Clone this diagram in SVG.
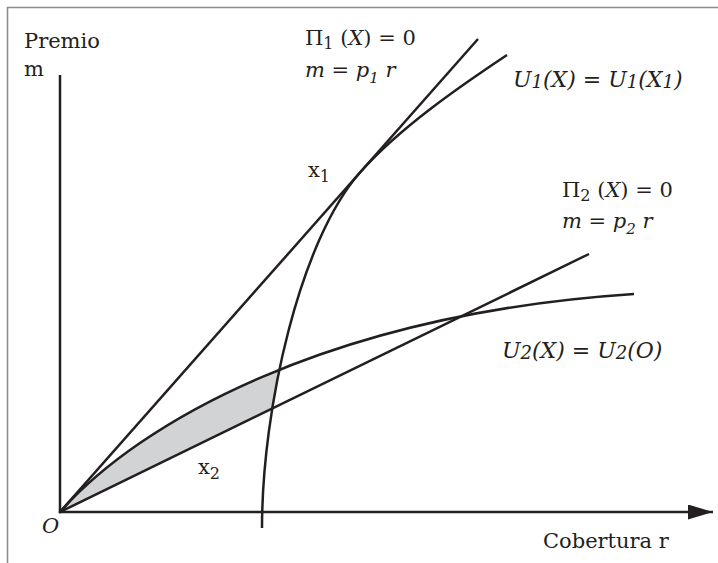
<svg xmlns="http://www.w3.org/2000/svg" width="718" height="563" viewBox="0 0 718 563">
<style>
.t{font-family:"DejaVu Serif","Liberation Serif",serif;font-size:21px;fill:#231f20}
.i{font-style:italic}
.u{font-size:22px}
.c{fill:none;stroke:#231f20;stroke-width:2.5;stroke-linecap:butt}
.fr{fill:none;stroke:#8c8c8c;stroke-width:1.6}
</style>
<defs>
<marker id="ah" markerWidth="26" markerHeight="15" refX="25" refY="7.5" orient="auto" markerUnits="userSpaceOnUse">
<path d="M0,0 L25,7.5 L0,15 Z" fill="#231f20"/>
</marker>
<clipPath id="leftU1"><path d="M0,600 L262,600 L262,528 C262,408 300,240.4 360,172.5 L360,0 L0,0 Z"/></clipPath>
<clipPath id="abovePi2"><path d="M60,512 L700,199.9 L700,0 L0,0 L0,512 Z"/></clipPath>
</defs>
<g id="frame">
<line class="fr" x1="7.5" y1="7" x2="7.5" y2="563"/>
<line class="fr" x1="7" y1="7.5" x2="718" y2="7.5"/>
</g>
<g id="shaded" clip-path="url(#leftU1)">
<path d="M60,512 C140,421.5 330,314 634,294 Z" fill="#d1d3d4" clip-path="url(#abovePi2)"/>
</g>
<g id="connectors">
<line id="yaxis" class="c" x1="60" y1="75" x2="60" y2="513.2"/>
<line id="xaxis" class="c" x1="58.8" y1="512" x2="713" y2="512" marker-end="url(#ah)"/>
<line id="pi1" class="c" x1="60" y1="512" x2="478" y2="39"/>
<line id="pi2" class="c" x1="60" y1="512" x2="589" y2="254"/>
<path id="u1" class="c" d="M262,528 C262,408 300,240.4 360,172.5 C400,127.2 462,85 507,55"/>
<path id="u2" class="c" d="M60,512 C140,421.5 330,314 634,294"/>
</g>
<g id="labels">
<text class="t" x="24" y="48">Premio</text>
<text class="t" x="24" y="76">m</text>
<text class="t" x="305" y="45">Π<tspan font-size="16" dy="4">1</tspan><tspan dy="-4"> (</tspan><tspan class="i">X</tspan>) = 0</text>
<text class="t i" x="305" y="77">m = p<tspan font-size="15" dy="6">1</tspan><tspan dy="-6"> r</tspan></text>
<text class="t i u" x="513" y="87">U<tspan font-size="18" dy="1">1</tspan><tspan dy="-1">(X) = U</tspan><tspan font-size="18" dy="1">1</tspan><tspan dy="-1">(X</tspan><tspan font-size="18" dy="1">1</tspan><tspan dy="-1">)</tspan></text>
<text class="t" x="308" y="177">x<tspan font-size="16" dy="5">1</tspan></text>
<text class="t" x="562" y="197">Π<tspan font-size="16" dy="4">2</tspan><tspan dy="-4"> (</tspan><tspan class="i">X</tspan>) = 0</text>
<text class="t i" x="562" y="228">m = p<tspan font-size="15" dy="6">2</tspan><tspan dy="-6"> r</tspan></text>
<text class="t i u" x="502" y="358">U<tspan font-size="18" dy="1">2</tspan><tspan dy="-1">(X) = U</tspan><tspan font-size="18" dy="1">2</tspan><tspan dy="-1">(O)</tspan></text>
<text class="t" x="198" y="474">x<tspan font-size="16" dy="5">2</tspan></text>
<text class="t i" x="42" y="533" font-size="18">O</text>
<text class="t" x="543" y="548">Cobertura r</text>
</g>
</svg>
